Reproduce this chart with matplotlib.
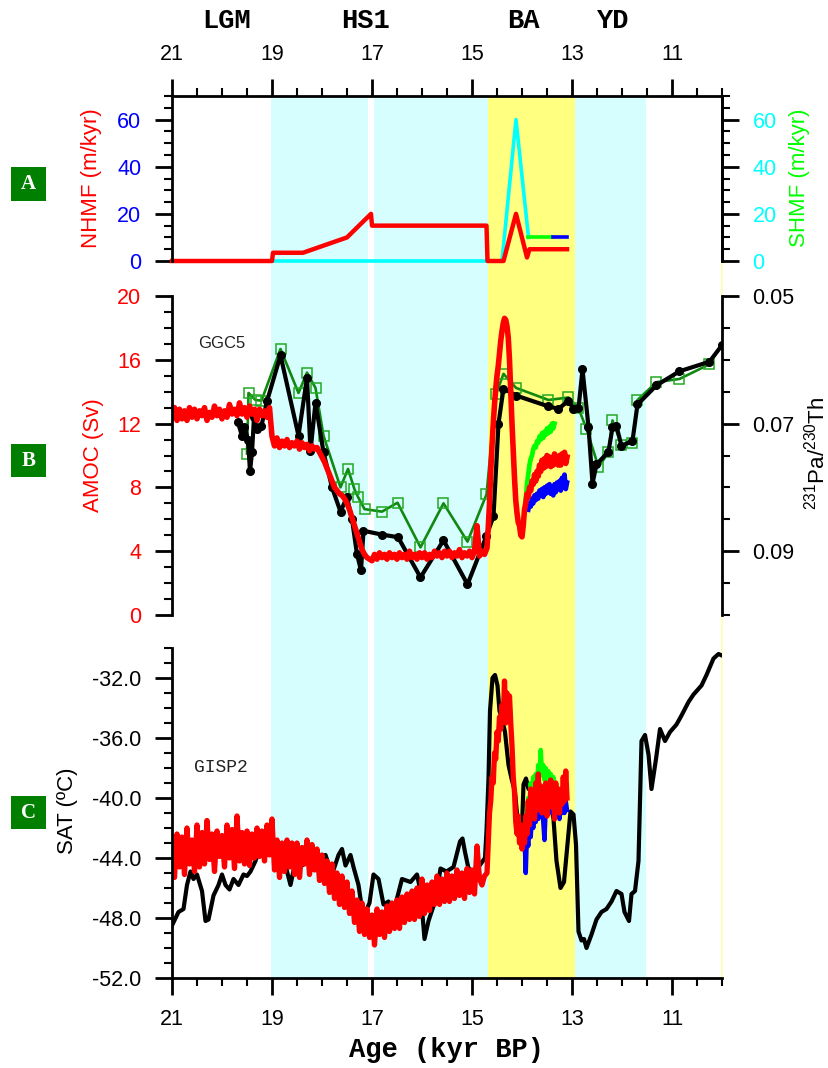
import numpy as np
import matplotlib
matplotlib.use('Agg')
import matplotlib.pyplot as plt
from matplotlib.ticker import MultipleLocator, FixedLocator, FormatStrFormatter
from matplotlib.patches import Rectangle
from matplotlib.transforms import blended_transform_factory

plt.rcParams['font.family'] = ['Liberation Sans', 'DejaVu Sans']
plt.rcParams['axes.unicode_minus'] = False
plt.rcParams['mathtext.fontset'] = 'custom'
plt.rcParams['mathtext.rm'] = 'Liberation Sans'

# ---------------- data ----------------
age_ticks = [21, 19, 17, 15, 13, 11]
periods = ['LGM', 'HS1', 'BA', 'YD']
period_age = [19.9, 17.12, 13.98, 12.2]

# shaded intervals (kyr BP)
cyan_spans = [(19.02, 17.07), (16.97, 14.67), (12.93, 11.51)]
yellow_spans = [(14.67, 12.93)]

# panel A: meltwater fluxes (m/kyr)
nhmf_age = [21.0, 19.0, 18.98, 18.38, 17.5, 17.02, 17.0, 14.71, 14.69, 14.37, 14.12, 13.9, 13.85, 13.1]
nhmf_val = [0, 0, 3.5, 3.5, 10, 20, 15, 15, 0, 0, 20, 1.5, 5, 5]
shmf_age = [21.0, 14.4, 14.12, 13.87]
shmf_val = [0, 0, 60, 10]
shmf_green_age = [13.87, 13.38]
shmf_green_val = [10, 10]
shmf_blue_age = [13.38, 13.1]
shmf_blue_val = [10, 10]

# panel B: GGC5 231Pa/230Th
pa_age = [19.68, 19.60, 19.55, 19.48, 19.44, 19.40, 19.36, 19.30, 19.21, 19.10,
          18.83, 18.47, 18.30, 18.23, 18.13, 17.97, 17.80, 17.63, 17.50, 17.40,
          17.30, 17.22, 17.17, 16.80, 16.48, 16.03, 15.57, 15.09, 14.71, 14.57,
          14.47, 14.37, 14.12, 13.47, 13.27, 13.07, 12.97, 12.87, 12.79, 12.67,
          12.59, 12.51, 12.27, 12.19, 12.11, 12.01, 11.79, 11.69, 11.31, 10.85,
          10.25, 10.0]
pa_val = [0.0698, 0.0720, 0.0705, 0.0725, 0.0775, 0.0745, 0.0690, 0.0708, 0.0703, 0.0665,
          0.0593, 0.0719, 0.0628, 0.0743, 0.0667, 0.0745, 0.0800, 0.0838, 0.0815, 0.0850,
          0.0905, 0.0930, 0.0868, 0.0874, 0.0878, 0.0941, 0.0883, 0.0952, 0.0876, 0.0845,
          0.0700, 0.0645, 0.0656, 0.0673, 0.0677, 0.0664, 0.0677, 0.0676, 0.0615, 0.0705,
          0.0794, 0.0764, 0.0744, 0.0706, 0.0704, 0.0735, 0.0727, 0.0670, 0.0640, 0.0618,
          0.0603, 0.0577]
pa2_age = [19.50, 19.47, 19.33, 19.21, 18.83, 18.47, 18.30, 18.13, 17.97, 17.63,
           17.48, 17.35, 17.28, 17.15, 16.80, 16.49, 16.03, 15.57, 15.09, 14.71,
           14.52, 14.37, 14.12, 13.47, 13.07, 12.87, 12.71, 12.47, 12.27, 12.19,
           12.01, 11.79, 11.69, 11.31, 10.85, 10.25]
pa2_val = [0.0747, 0.0652, 0.0663, 0.0664, 0.0583, 0.0652, 0.0620, 0.0644, 0.0719, 0.0800,
           0.0771, 0.0803, 0.0815, 0.0834, 0.0838, 0.0824, 0.0894, 0.0825, 0.0885, 0.0811,
           0.0654, 0.0622, 0.0644, 0.0663, 0.0659, 0.0676, 0.0708, 0.0768, 0.0745, 0.0695,
           0.0733, 0.0731, 0.0663, 0.0635, 0.0630, 0.0607]

# panel B: model AMOC (Sv), 21.00-14.75 every 0.05 kyr, then 14.70-13.10 every 0.025 kyr
amoc_early = [12.4, 13.0, 12.2, 12.9, 12.3, 12.8, 12.2, 13.0, 12.4, 12.9,
              12.3, 12.8, 12.5, 13.0, 12.2, 12.7, 12.4, 13.1, 12.5, 12.9,
              12.3, 12.8, 12.4, 13.2, 12.6, 12.9, 12.5, 13.3, 12.6, 13.0,
              12.4, 13.1, 12.6, 12.9, 12.2, 12.9, 12.5, 12.8, 12.4, 13.0,
              11.2, 10.6, 11.1, 10.5, 10.9, 10.6, 11.0, 10.5, 10.8, 10.6,
              10.9, 10.4, 10.8, 10.5, 10.7, 10.3, 10.6, 10.4, 10.5, 10.2,
              9.9, 9.6, 9.2, 8.8, 8.4, 8.0, 7.8, 7.6, 7.5, 7.3,
              7.0, 6.6, 6.1, 5.6, 5.1, 4.6, 4.1, 3.8, 3.6, 3.5,
              3.4, 3.8, 3.5, 3.9, 3.6, 3.8, 3.5, 3.9, 3.6, 3.8,
              3.5, 3.9, 3.6, 3.8, 3.5, 4.0, 3.6, 3.8, 3.5, 3.9,
              3.6, 3.9, 3.5, 3.8, 3.6, 4.0, 3.7, 3.9, 3.6, 4.0,
              3.7, 4.0, 3.6, 3.9, 3.7, 4.1, 3.6, 3.9, 3.7, 4.0,
              3.6, 4.0, 5.6, 3.7, 4.0, 3.8]
amoc_ba = [4.2, 5.5, 7.0, 9.0, 10.6, 12.0, 13.2, 14.2, 15.0, 15.6,
           16.4, 17.2, 17.8, 18.3, 18.6, 18.5, 18.1, 17.4, 16.0, 14.0,
           12.0, 10.3, 8.6, 7.2, 6.4, 5.8, 5.6, 5.0, 4.9, 5.6,
           6.6, 7.0, 7.6, 7.4, 8.0, 7.8, 8.4, 8.2, 8.8, 8.4,
           9.0, 8.7, 9.4, 9.0, 9.7, 9.2, 9.8, 9.3, 10.0, 9.4,
           9.9, 9.3, 9.8, 9.4, 10.1, 9.5, 9.9, 9.4, 10.0, 9.4,
           10.1, 9.6, 10.2, 9.5, 9.9]
# sensitivity runs, 13.875-13.10 (blue) and 13.925-13.35 (green), every 0.025 kyr
amoc_blue = [6.6, 7.0, 6.8, 7.3, 7.0, 7.5, 7.2, 7.6, 7.3, 7.8,
             7.5, 7.9, 7.4, 8.0, 7.6, 8.1, 7.7, 8.2, 7.6, 8.0,
             7.5, 8.2, 7.7, 8.3, 7.9, 8.4, 7.8, 8.6, 8.0, 8.8,
             7.9, 8.3]
amoc_green = [7.2, 8.2, 8.8, 9.4, 9.8, 10.0, 10.4, 10.6, 10.5, 10.9,
              10.8, 11.2, 11.0, 11.4, 11.1, 11.5, 11.3, 11.7, 11.4, 11.8,
              11.5, 12.0, 11.7, 12.0]

# panel C: GISP2 SAT (degC)
gisp_age = [21.00, 20.87, 20.77, 20.70, 20.63, 20.57, 20.50, 20.40, 20.33, 20.27,
            20.17, 20.07, 20.00, 19.93, 19.85, 19.77, 19.67, 19.57, 19.50, 19.43,
            19.33, 19.27, 19.17, 19.07, 18.97, 18.87, 18.73, 18.63, 18.53, 18.40,
            18.27, 18.07, 17.93, 17.80, 17.67, 17.60, 17.53, 17.43, 17.37, 17.27,
            17.20, 17.13, 17.05, 16.97, 16.87, 16.77, 16.67, 16.57, 16.40, 16.23,
            16.10, 16.03, 15.95, 15.87, 15.73, 15.63, 15.51, 15.37, 15.24, 15.19,
            15.14, 15.07, 14.97, 14.87, 14.74, 14.71, 14.67, 14.64, 14.59, 14.54,
            14.49, 14.45, 14.41, 14.34, 14.27, 14.21, 14.14, 14.09, 14.04, 14.01,
            13.97, 13.92, 13.87, 13.81, 13.70, 13.55, 13.45, 13.37, 13.31, 13.23,
            13.16, 13.09, 13.03, 12.97, 12.92, 12.87, 12.81, 12.76, 12.71, 12.61,
            12.51, 12.41, 12.31, 12.21, 12.11, 12.01, 11.95, 11.86, 11.81, 11.74,
            11.67, 11.61, 11.54, 11.47, 11.41, 11.32, 11.24, 11.14, 11.04, 10.91,
            10.81, 10.67, 10.57, 10.41, 10.31, 10.17, 10.07, 10.00]
gisp_val = [-48.5, -47.6, -47.4, -45.8, -44.9, -45.4, -45.1, -46.2, -48.2, -48.1,
            -46.5, -45.8, -45.1, -45.8, -46.1, -45.4, -45.8, -45.1, -45.2, -44.9,
            -44.2, -43.6, -43.8, -43.7, -43.1, -43.8, -44.5, -45.8, -44.2, -44.5,
            -44.2, -44.0, -43.8, -45.1, -43.8, -43.4, -44.5, -43.8, -44.6, -45.8,
            -47.4, -47.6, -47.0, -45.1, -45.4, -47.1, -46.9, -47.6, -45.4, -45.6,
            -45.1, -46.2, -49.4, -48.2, -46.8, -44.7, -44.9, -44.6, -42.9, -42.7,
            -43.6, -44.7, -44.9, -44.6, -44.0, -42.2, -38.7, -34.2, -32.0, -31.8,
            -32.5, -34.2, -34.6, -35.6, -37.8, -38.7, -39.6, -41.4, -42.7, -42.9,
            -39.1, -38.7, -39.4, -39.1, -39.6, -40.2, -40.0, -41.4, -44.2, -46.0,
            -45.6, -43.1, -40.9, -41.1, -43.1, -48.9, -49.5, -49.4, -50.0, -49.1,
            -48.1, -47.6, -47.4, -46.9, -46.2, -46.4, -47.6, -48.2, -46.4, -46.2,
            -44.2, -36.2, -35.8, -37.1, -39.4, -37.4, -35.4, -36.2, -35.6, -35.1,
            -34.5, -33.6, -33.1, -32.5, -31.8, -30.7, -30.4, -30.5]

# panel C: model SAT, same time axes as AMOC
sat_early = [-43.0, -45.3, -42.4, -44.6, -42.6, -45.1, -42.0, -44.4, -42.8, -44.9,
             -41.8, -44.6, -42.3, -44.4, -41.5, -44.1, -42.4, -44.9, -42.2, -43.9,
             -42.5, -44.6, -41.8, -44.0, -42.1, -44.7, -41.2, -44.2, -42.3, -44.4,
             -42.2, -44.5, -42.4, -44.0, -42.0, -43.9, -42.2, -44.2, -41.8, -43.8,
             -41.4, -44.8, -42.8, -45.3, -43.0, -44.9, -42.8, -44.6, -43.0, -45.1,
             -43.0, -45.3, -43.3, -44.4, -42.8, -45.1, -43.1, -44.8, -43.4, -45.5,
             -43.8, -45.7, -44.2, -46.3, -44.4, -46.7, -45.0, -47.1, -45.2, -47.3,
             -45.6, -47.7, -46.2, -48.3, -46.8, -48.9, -47.0, -49.1, -47.4, -49.3,
             -47.8, -49.8, -47.4, -49.1, -47.6, -49.3, -47.2, -48.9, -47.0, -48.7,
             -46.8, -48.7, -46.6, -48.3, -46.4, -48.1, -46.2, -48.1, -46.0, -47.9,
             -45.4, -47.7, -45.8, -47.5, -45.6, -47.1, -45.2, -47.1, -45.4, -46.9,
             -45.0, -46.9, -45.2, -46.7, -44.8, -46.5, -45.0, -46.7, -44.7, -46.3,
             -44.8, -46.4, -43.2, -45.4, -45.8, -45.2]
sat_ba = [-45.0, -43.0, -41.0, -40.2, -38.6, -39.0, -37.0, -37.4, -35.6, -36.2,
          -34.6, -35.4, -33.8, -34.8, -32.2, -35.0, -33.0, -34.0, -33.2, -35.0,
          -36.5, -38.6, -39.6, -41.6, -42.4, -41.2, -43.0, -41.8, -43.4, -42.0,
          -43.0, -41.2, -42.4, -40.2, -41.8, -39.4, -41.0, -39.6, -41.4, -39.0,
          -40.8, -38.4, -40.6, -39.2, -41.0, -39.4, -40.4, -39.0, -41.2, -39.6,
          -40.2, -38.8, -40.6, -39.4, -41.4, -39.0, -40.8, -39.4, -41.0, -39.6,
          -40.4, -38.6, -40.2, -38.2, -40.0]
sat_blue = [-42.6, -45.0, -42.2, -43.2, -41.6, -42.6, -41.0, -42.0, -40.6, -41.6,
            -40.2, -41.4, -40.0, -41.0, -40.4, -41.6, -42.8, -40.6, -41.2, -40.0,
            -40.8, -39.8, -41.0, -40.2, -41.2, -40.0, -40.8, -40.2, -41.4, -40.6,
            -41.0, -39.8, -41.0, -40.2, -40.8]
sat_green = [-41.0, -40.0, -40.6, -39.0, -39.8, -38.6, -39.6, -38.4, -39.2, -37.8,
             -38.6, -36.8, -38.4, -37.8, -38.8, -38.0, -39.0, -38.2, -39.2, -38.4,
             -39.4, -38.6, -39.6]

# model time axes (regular output)
t_early = np.linspace(21.0, 14.75, len(amoc_early))
t_ba = np.linspace(14.70, 13.10, len(amoc_ba))
t_blue_amoc = np.linspace(13.875, 13.10, len(amoc_blue))
t_green_amoc = np.linspace(13.925, 13.35, len(amoc_green))
t_blue_sat = np.linspace(13.95, 13.10, len(sat_blue))
t_green_sat = np.linspace(13.90, 13.35, len(sat_green))

# ---------------- figure ----------------
W, H = 829, 1068
fig = plt.figure(figsize=(W / 100, H / 100), dpi=100)


def fx(x):
    return x / W


def fy(y):
    return 1 - y / H


def box(top, bottom):
    return [fx(172), fy(bottom), fx(722) - fx(172), (bottom - top) / H]


CYAN = '#D6FEFE'
YELLOW = '#FFFF80'
GREEN = '#00FF00'
TICK_FS = 15.5


def style(ax):
    ax.tick_params(which='major', direction='out', length=12, width=2,
                   labelsize=TICK_FS, pad=10)
    ax.tick_params(which='minor', direction='out', length=6, width=1.5)
    for s in ax.spines.values():
        s.set_linewidth(2)


# background shading spanning all panels
bg = fig.add_axes(box(96, 978), zorder=0)
bg.set_xlim(21, 10)
bg.set_ylim(0, 1)
bg.axis('off')
for a0, a1 in cyan_spans:
    bg.axvspan(a0, a1, color=CYAN, lw=0)
for a0, a1 in yellow_spans:
    bg.axvspan(a0, a1, color=YELLOW, lw=0)
bg.axvline(10.0, color='#FFFFB0', lw=1.2, clip_on=False)

# ---- panel A ----
axA = fig.add_axes(box(96, 261), zorder=3)
axA.patch.set_visible(False)
axA.set_xlim(21, 10)
axA.set_ylim(0, 70)
axA.spines['bottom'].set_visible(False)
axA.xaxis.tick_top()
axA.set_xticks(age_ticks)
axA.xaxis.set_minor_locator(MultipleLocator(0.5))
axA.yaxis.set_major_locator(MultipleLocator(20))
axA.yaxis.set_minor_locator(MultipleLocator(5))
style(axA)
axA.tick_params(axis='y', labelcolor='blue')

axA2 = axA.twinx()
axA2.set_zorder(2)
axA2.set_ylim(0, 70)
axA2.yaxis.set_major_locator(MultipleLocator(20))
axA2.yaxis.set_minor_locator(MultipleLocator(5))
for s in ['top', 'bottom', 'left']:
    axA2.spines[s].set_visible(False)
style(axA2)
axA2.tick_params(axis='y', labelcolor='cyan')

axA.plot(shmf_age, shmf_val, color='cyan', lw=2.6, clip_on=False)
axA.plot(nhmf_age, nhmf_val, color='red', lw=3.2, clip_on=False)
axA.plot(shmf_green_age, shmf_green_val, color=GREEN, lw=2.6)
axA.plot(shmf_blue_age, shmf_blue_val, color='blue', lw=2.6)

# ---- panel B ----
axBr = fig.add_axes(box(296, 615), zorder=2)
axBr.patch.set_visible(False)
axBr.set_xlim(21, 10)
axBr.set_ylim(0.10, 0.05)
axBr.xaxis.set_visible(False)
axBr.yaxis.tick_right()
for s in ['top', 'bottom', 'left']:
    axBr.spines[s].set_visible(False)
axBr.yaxis.set_major_locator(FixedLocator([0.05, 0.07, 0.09]))
axBr.yaxis.set_minor_locator(MultipleLocator(0.005))
axBr.yaxis.set_major_formatter(FormatStrFormatter('%.2f'))
style(axBr)
axBr.plot(pa2_age, pa2_val, color='#118811', lw=1.9, marker='s', ms=6.5,
          mfc='none', mec='#22AA22', mew=1.1)
axBr.plot(pa_age, pa_val, color='black', lw=3.0, marker='o', ms=5.5)

axB = fig.add_axes(box(296, 615), zorder=3)
axB.patch.set_visible(False)
axB.set_xlim(21, 10)
axB.set_ylim(0, 20)
axB.xaxis.set_visible(False)
for s in ['top', 'bottom', 'right']:
    axB.spines[s].set_visible(False)
axB.yaxis.set_major_locator(MultipleLocator(4))
axB.yaxis.set_minor_locator(MultipleLocator(1))
style(axB)
axB.tick_params(axis='y', labelcolor='red')
axB.plot(t_green_amoc, amoc_green, color=GREEN, lw=3.4)
axB.plot(t_blue_amoc, amoc_blue, color='blue', lw=3.4)
axB.plot(np.concatenate([t_early, t_ba]), amoc_early + amoc_ba, color='red', lw=4.0)

# ---- panel C ----
axC = fig.add_axes(box(648, 978), zorder=3)
axC.patch.set_visible(False)
axC.set_xlim(21, 10)
axC.set_ylim(-52, -30)
for s in ['top', 'right']:
    axC.spines[s].set_visible(False)
axC.set_xticks(age_ticks)
axC.xaxis.set_minor_locator(MultipleLocator(0.5))
axC.yaxis.set_major_locator(FixedLocator([-52, -48, -44, -40, -36, -32]))
axC.yaxis.set_minor_locator(MultipleLocator(1))
axC.yaxis.set_major_formatter(FormatStrFormatter('%.1f'))
style(axC)
axC.plot(gisp_age, gisp_val, color='black', lw=3.0)
axC.plot(t_green_sat, sat_green, color=GREEN, lw=3.2)
axC.plot(t_blue_sat, sat_blue, color='blue', lw=3.2)
axC.plot(np.concatenate([t_early, t_ba]), sat_early + sat_ba, color='red', lw=3.8)

# ---- labels ----
lab = dict(rotation=90, ha='center', va='center', fontsize=16)
fig.text(fx(92), fy(178), 'NHMF (m/kyr)', color='red', **lab)
fig.text(fx(94), fy(455), 'AMOC (Sv)', color='red', **lab)
fig.text(fx(68), fy(811), 'SAT (\u00baC)', color='black', **lab)
fig.text(fx(800), fy(178), 'SHMF (m/kyr)', color=GREEN, **lab)
fig.text(fx(817), fy(453), r'$\mathregular{^{231}Pa/^{230}Th}$', color='black', **lab)

fig.text(fx(447), fy(1050), 'Age (kyr BP)', ha='center', va='center',
         family='Liberation Mono', weight='bold', fontsize=19.5)
top_tr = blended_transform_factory(axA.transData, fig.transFigure)
for name, a in zip(periods, period_age):
    axA.text(a, fy(21), name, transform=top_tr, ha='center', va='center',
             family='Liberation Mono', weight='bold', fontsize=19.5, clip_on=False)

fig.text(fx(222), fy(343), 'GGC5', ha='center', va='center', fontsize=12, color='#222222')
fig.text(fx(221), fy(768), 'GISP2', ha='center', va='center', fontsize=13,
         family='Liberation Mono', color='#222222')

# panel letters
for letter, y0, y1 in [('A', 167, 201), ('B', 444, 477), ('C', 796, 829)]:
    fig.add_artist(Rectangle((fx(11), fy(y1)), fx(46) - fx(11), (y1 - y0) / H,
                             transform=fig.transFigure, color='#007F00', lw=0))
    fig.text(fx(28.5), fy((y0 + y1) / 2), letter, ha='center', va='center',
             color='white', family='Liberation Serif', weight='bold', fontsize=15)

fig.savefig('out.png', dpi=100)
